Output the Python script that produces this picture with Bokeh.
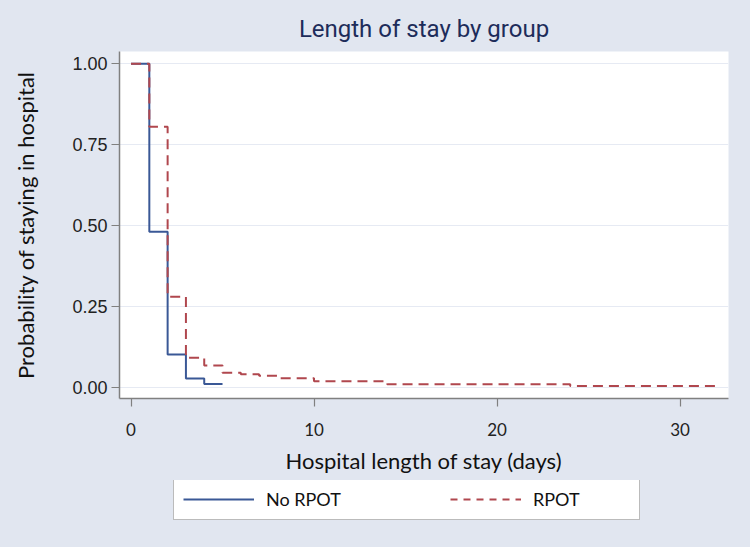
from bokeh.plotting import figure
from bokeh.models import Range1d, Legend, LegendItem, FixedTicker, NumeralTickFormatter
from bokeh.layouts import column
from bokeh.embed import file_html
from bokeh.resources import INLINE

# ---- data ----
no_rpot_days = [0, 1, 2, 3, 4, 5]
no_rpot_surv = [1.0, 0.481, 0.101, 0.027, 0.010, 0.010]

rpot_days = [0, 1, 2, 3, 4, 5, 6, 7, 8, 10, 14, 24, 32]
rpot_surv = [1.0, 0.805, 0.280, 0.091, 0.067, 0.045, 0.040, 0.035, 0.028, 0.018, 0.009, 0.004, 0.004]

y_ticks = [0.0, 0.25, 0.5, 0.75, 1.0]
x_ticks = [0, 10, 20, 30]
series_names = ["No RPOT", "RPOT"]

BG = "#e1e6f0"
BLUE = "#3a5896"
RED = "#b0474e"

p = figure(width=750, height=480, output_backend="svg", toolbar_location=None,
           x_range=Range1d(-0.63, 32.65), y_range=Range1d(-0.035, 1.038))
p.min_border_left = 119
p.min_border_right = 22
p.min_border_top = 51
p.min_border_bottom = 82
p.border_fill_color = BG
p.background_fill_color = "white"
p.outline_line_color = None

p.title.text = "Length of stay by group"
p.title.align = "center"
p.title.text_font = "Roboto"
p.title.text_font_style = "normal"
p.title.text_font_size = "24px"
p.title.text_color = "#1d2c5a"
p.title.standoff = 18

p.step(no_rpot_days, no_rpot_surv, mode="after", line_color=BLUE, line_width=2)
p.step(rpot_days, rpot_surv, mode="after", line_color=RED, line_width=2, line_dash="10 6")

# axes
p.xgrid.grid_line_color = None
p.ygrid.grid_line_color = "#e6eaf3"
p.ygrid.grid_line_width = 1.2

p.yaxis.ticker = FixedTicker(ticks=y_ticks)
p.yaxis.formatter = NumeralTickFormatter(format="0.00")
p.xaxis.ticker = FixedTicker(ticks=x_ticks)

for ax in (p.xaxis[0], p.yaxis[0]):
    ax.axis_line_color = "#808080"
    ax.axis_line_width = 1.5
    ax.major_tick_line_color = "#808080"
    ax.major_tick_line_width = 1.2
    ax.major_tick_out = 8
    ax.major_tick_in = 0
    ax.minor_tick_line_color = None
    ax.major_label_text_color = "#222222"
    ax.axis_label_text_color = "#111111"
    ax.axis_label_text_font = "Lato"
    ax.axis_label_text_font_style = "normal"
    ax.axis_label_text_font_size = "22px"

p.yaxis.major_label_text_font = "Liberation Sans"
p.yaxis.major_label_text_font_size = "18px"
p.yaxis.major_label_standoff = 4
p.yaxis.axis_label = "Probability of staying in hospital"
p.yaxis.axis_label_standoff = 30

p.xaxis.major_label_text_font = "Lato"
p.xaxis.major_label_text_font_size = "17px"
p.xaxis.major_label_standoff = 16
p.xaxis.axis_label = "Hospital length of stay (days)"
p.xaxis.axis_label_standoff = 8

# ---- legend strip (separate figure so nothing gets clipped) ----
# its view range is set away from the data, so the proxy lines stay hidden
q = figure(width=750, height=67, output_backend="svg", toolbar_location=None,
           x_range=Range1d(100, 101), y_range=Range1d(100, 101))
q.min_border_left = 119
q.min_border_right = 22
q.min_border_top = 0
q.min_border_bottom = 0
q.axis.visible = False
q.grid.visible = False
q.outline_line_color = None
q.background_fill_color = BG
q.border_fill_color = BG

l1 = q.line(no_rpot_days, no_rpot_surv, line_color=BLUE, line_width=2)
l2 = q.line(rpot_days, rpot_surv, line_color=RED, line_width=2, line_dash="7 6")

legend = Legend(items=[LegendItem(label=series_names[0], renderers=[l1]),
                       LegendItem(label=series_names[1], renderers=[l2])],
                orientation="horizontal", location=(54, 27))
legend.background_fill_color = "white"
legend.background_fill_alpha = 1.0
legend.border_line_color = "#777777"
legend.border_line_width = 1
legend.padding = 9
legend.margin = 0
legend.spacing = 87
legend.glyph_width = 71
legend.glyph_height = 18
legend.label_width = 97
legend.label_height = 18
legend.label_standoff = 12
legend.label_text_font = "Lato"
legend.label_text_font_size = "18px"
legend.label_text_color = "#111111"
q.add_layout(legend)

layout = column(p, q, spacing=0)
html = file_html(layout, INLINE)
html = html.replace("</head>",
                    "<style>html, body { background: %s !important; }</style></head>" % BG, 1)
open("out.html", "w").write(html)
